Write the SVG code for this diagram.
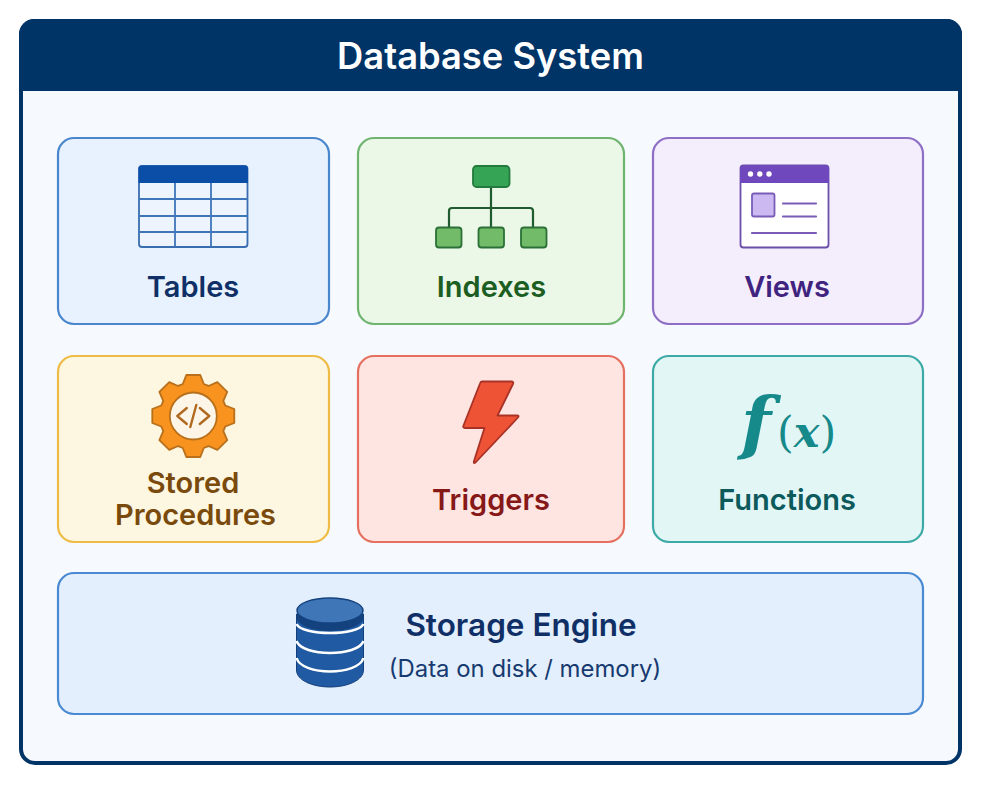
<svg xmlns="http://www.w3.org/2000/svg" width="981" height="785" viewBox="0 0 981 785">
<style>
text{font-family:Inter,"Liberation Sans",sans-serif;text-anchor:middle}
.lbl{font-size:29px;font-weight:600}
.card{stroke-width:2.200}
.serif{font-family:"DejaVu Serif",serif;fill:#16898a;text-anchor:start}
</style>
<rect width="981" height="785" fill="#ffffff"/>
<g id="system">
<rect x="21" y="21" width="939" height="742" rx="14" fill="#f6faff" stroke="#003366" stroke-width="4"/>
<path d="M19 91V34a15 15 0 0 1 15-15H947a15 15 0 0 1 15 15V91Z" fill="#003366"/>
<text x="490.500" y="69" font-size="36.300" font-weight="600" fill="#ffffff">Database System</text>
</g>
<g id="connectors"/>
<g id="tables">
<rect class="card" x="58" y="138" width="271" height="186" rx="16" fill="#e7f2fe" stroke="#4a86cc"/>
<rect x="139" y="166" width="108.500" height="81" rx="3" fill="#edf4fd" stroke="#3a6db0" stroke-width="1.800"/>
<path d="M138.500 183V169a3.500 3.500 0 0 1 3.500-3.500H244.500a3.500 3.500 0 0 1 3.500 3.500V183Z" fill="#0a4ea8"/>
<path d="M175 183V247M211 183V247M139 199H247.500M139 216H247.500M139 232H247.500" fill="none" stroke="#3f76ba" stroke-width="1.800"/>
<text class="lbl" x="193" y="297" fill="#0f2f66">Tables</text>
</g>
<g id="indexes">
<rect class="card" x="358" y="138" width="266" height="186" rx="16" fill="#ebf7e7" stroke="#6fb46f"/>
<path d="M491 187V227M449 227V211a3 3 0 0 1 3-3H530a3 3 0 0 1 3 3V227" fill="none" stroke="#1f5c30" stroke-width="2.200"/>
<rect x="473" y="166" width="36.500" height="21" rx="3.500" fill="#36a455" stroke="#227a3c" stroke-width="1.800"/>
<rect x="436" y="227.500" width="25.500" height="20" rx="3" fill="#72bb69" stroke="#2b7038" stroke-width="1.800"/>
<rect x="478.500" y="227.500" width="25.500" height="20" rx="3" fill="#72bb69" stroke="#2b7038" stroke-width="1.800"/>
<rect x="521" y="227.500" width="25.500" height="20" rx="3" fill="#72bb69" stroke="#2b7038" stroke-width="1.800"/>
<text class="lbl" x="491.500" y="297" fill="#1c5e22">Indexes</text>
</g>
<g id="views">
<rect class="card" x="653" y="138" width="270" height="186" rx="16" fill="#f3edfc" stroke="#8f6fc6"/>
<rect x="740.500" y="165.500" width="88" height="82" rx="3" fill="#ffffff" stroke="#6b4fa8" stroke-width="1.800"/>
<path d="M740 183V168.500a3 3 0 0 1 3-3H826a3 3 0 0 1 3 3V183Z" fill="#7048bd"/>
<circle cx="750.500" cy="174" r="2.700" fill="#fff"/><circle cx="759.800" cy="174" r="2.700" fill="#fff"/><circle cx="769" cy="174" r="2.700" fill="#fff"/>
<rect x="752" y="193.500" width="22.500" height="23" rx="2" fill="#cdb9f2" stroke="#7a5cb8" stroke-width="1.800"/>
<path d="M783 203.500H816M783 216.500H816M752 233H816" fill="none" stroke="#7a5cb8" stroke-width="2.200" stroke-linecap="round"/>
<text class="lbl" x="787" y="297" fill="#40237f">Views</text>
</g>
<g id="stored-procedures">
<rect class="card" x="58" y="356" width="271" height="186" rx="16" fill="#fdf6e1" stroke="#eebb45"/>
<g transform="translate(193.300 416)">
<polygon points="-10.500,-32 -7,-41 7,-41 10.500,-32 15.200,-30.050 24.040,-33.940 33.940,-24.040 30.050,-15.200 32,-10.500 41,-7 41,7 32,10.500 30.050,15.200 33.940,24.040 24.040,33.940 15.200,30.050 10.500,32 7,41 -7,41 -10.500,32 -15.200,30.050 -24.040,33.940 -33.940,24.040 -30.050,15.200 -32,10.500 -41,7 -41,-7 -32,-10.500 -30.050,-15.200 -33.940,-24.040 -24.040,-33.940 -15.200,-30.050" fill="#f7931e" stroke="#b8701c" stroke-width="1.800" stroke-linejoin="round"/>
<circle r="23.500" fill="#fdf6e8" stroke="#b8701c" stroke-width="1.800"/>
<path d="M-6.500-8L-16 0L-6.500 8M6.500-8L16 0L6.500 8M3-11L-3 11" fill="none" stroke="#b06a20" stroke-width="2.400" stroke-linecap="round" stroke-linejoin="round"/>
</g>
<text class="lbl" x="193" y="493" fill="#7a4a0c">Stored</text>
<text class="lbl" x="195.500" y="525" fill="#7a4a0c">Procedures</text>
</g>
<g id="triggers">
<rect class="card" x="358" y="356" width="266" height="186" rx="16" fill="#fee5e2" stroke="#e5705f"/>
<path d="M482 381.500H511.500Q514 381.500 513 384L497.500 415.500H517Q519.500 415.500 518 417.500L476 462Q473 464.500 474 461L484.500 428H465Q462.500 428 463.500 425.500L480 383.500Q480.500 381.500 482 381.500Z" fill="#ee5336" stroke="#a93226" stroke-width="1.800" stroke-linejoin="round"/>
<text class="lbl" x="491" y="510" fill="#861818">Triggers</text>
</g>
<g id="functions">
<rect class="card" x="653" y="356" width="270" height="186" rx="16" fill="#e2f6f6" stroke="#3eaaa6"/>
<text class="serif" x="741" y="447" font-size="70" font-style="italic" font-weight="700">f</text>
<text class="serif" x="777" y="447" font-size="43">(<tspan font-style="italic" font-weight="700">x</tspan>)</text>
<text class="lbl" x="787" y="510" fill="#0d5a5c">Functions</text>
</g>
<g id="storage-engine">
<rect class="card" x="58" y="573" width="865" height="141" rx="16" fill="#e3effc" stroke="#4a8ad2"/>
<path d="M296.500 614V670C296.500 680 312 687 330 687S363.500 680 363.500 670V614Z" fill="#1f5aa2" stroke="#143f7a" stroke-width="1"/>
<ellipse cx="330" cy="617" rx="33.500" ry="14" fill="#14427e"/>
<ellipse cx="330" cy="610.500" rx="33" ry="12.500" fill="#3f76b8" stroke="#14427e" stroke-width="1.500"/>
<path d="M296.500 624C302 636 358 636 363.500 624M296.500 641C302 657 358 657 363.500 641M296.500 658C302 676 358 676 363.500 658" fill="none" stroke="#ffffff" stroke-width="2.500"/>
<text x="521" y="636" font-size="31.500" font-weight="600" fill="#0f2f66">Storage Engine</text>
<text x="525" y="677" font-size="23.900" font-weight="400" fill="#173a70">(Data on disk / memory)</text>
</g>
</svg>
